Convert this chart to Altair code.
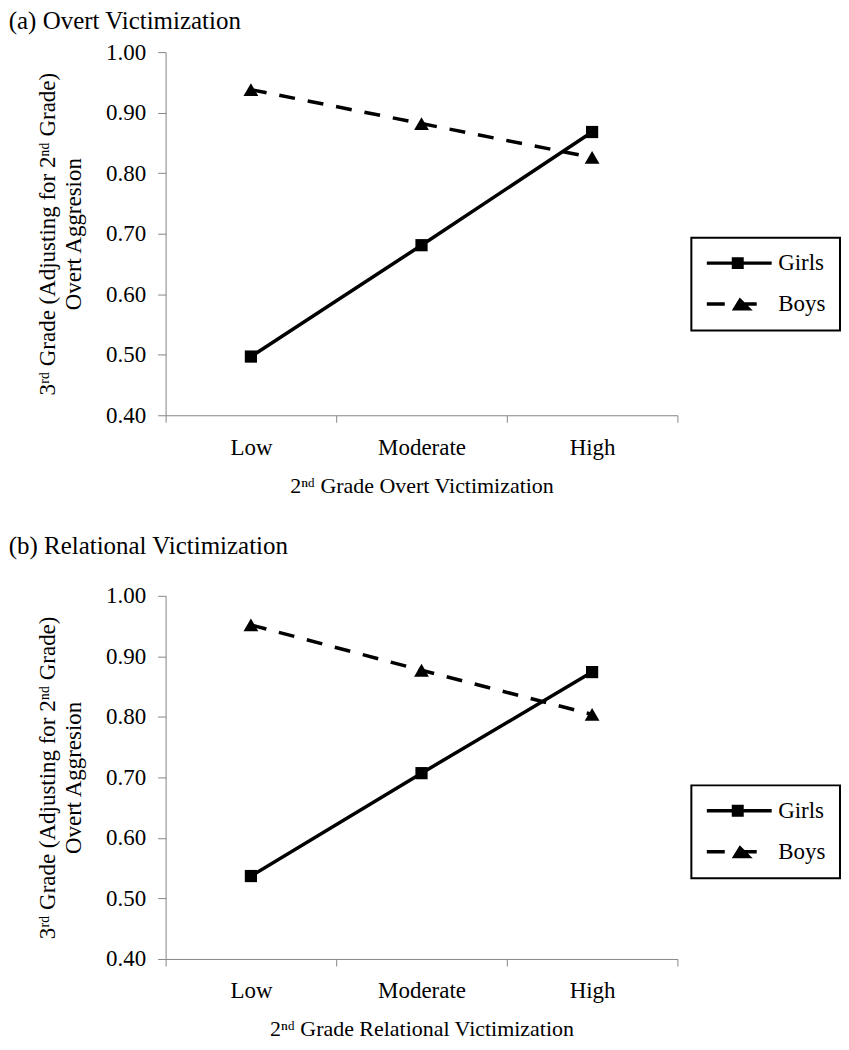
import altair as alt
import pandas as pd

categories = ["Low", "Moderate", "High"]
series = ["Girls", "Boys"]
girls_overt = [0.497, 0.681, 0.868]
boys_overt = [0.938, 0.882, 0.826]
girls_relational = [0.537, 0.707, 0.874]
boys_relational = [0.952, 0.877, 0.804]
y_ticks = [0.4, 0.5, 0.6, 0.7, 0.8, 0.9, 1.0]

FONT = "Liberation Serif"
AXIS_GRAY = "#868686"

# legend symbols: line sample + marker drawn as one filled path (unit = 10px)
GIRLS_PATH = ("M-1,-0.175L5.5,-0.175L5.5,0.175L-1,0.175Z"
              "M1.5,-0.6L2.7,-0.6L2.7,0.6L1.5,0.6Z")
BOYS_PATH = ("M-1,-0.175L0.8,-0.175L0.8,0.175L-1,0.175Z"
             "M2.7,-0.175L4,-0.175L4,0.175L2.7,0.175Z"
             "M1.5,0.65L2.3,-0.65L3.6,0.65Z")


def make_df(girls, boys):
    rows = []
    for s, vals in zip(series, [girls, boys]):
        for c, v in zip(categories, vals):
            rows.append({"level": c, "sex": s, "value": v})
    return pd.DataFrame(rows)


def panel(df, title, xtitle, title_offset, legend_y):
    base = alt.Chart(df)
    x = alt.X(
        "level:N",
        sort=categories,
        bandPosition=0.5,
        scale=alt.Scale(type="band", paddingInner=0, paddingOuter=0),
        axis=alt.Axis(title=xtitle, tickBand="extent", labelAngle=0,
                      tickSize=7, labelPadding=14, titlePadding=16),
    )
    y = alt.Y(
        "value:Q",
        scale=alt.Scale(domain=[0.4, 1.0], nice=False, zero=False),
        axis=alt.Axis(values=y_ticks, format=".2f",
                      title=["3ʳᵈ Grade (Adjusting for 2ⁿᵈ Grade)", "Overt Aggresion"],
                      tickSize=8, labelPadding=12, titlePadding=20,
                      titleLineHeight=26, titleFontSize=23),
    )
    girls = base.transform_filter(alt.datum.sex == "Girls")
    boys = base.transform_filter(alt.datum.sex == "Boys")
    girls_line = girls.mark_line(color="black", strokeWidth=3.5).encode(x=x, y=y)
    boys_line = boys.mark_line(color="black", strokeWidth=3.5,
                               strokeDash=[16, 13]).encode(x=x, y=y)
    girls_pts = girls.mark_point(
        shape="square", filled=True, size=150, color="black", opacity=1
    ).encode(x=x, y=y)
    boys_pts = boys.mark_point(
        shape="triangle-up", filled=True, size=220, color="black", opacity=1
    ).encode(x=x, y=y)
    legend_layer = base.mark_point(
        filled=True, color="black", opacity=0
    ).encode(
        x=x, y=y,
        shape=alt.Shape(
            "sex:N", sort=series,
            scale=alt.Scale(domain=series, range=[GIRLS_PATH, BOYS_PATH]),
            legend=alt.Legend(
                title=None, orient="none", legendX=527, legendY=legend_y,
                strokeColor="black", fillColor="white", padding=14,
                rowPadding=17, symbolSize=400, symbolStrokeWidth=0,
                symbolFillColor="black", symbolStrokeColor="black",
                symbolOpacity=1, labelFont=FONT, labelFontSize=23,
                labelColor="black", labelOffset=50,
            ),
        ),
    )
    return alt.layer(girls_line, boys_line, girls_pts, boys_pts, legend_layer).properties(
        width=513, height=364,
        title=alt.TitleParams(title, anchor="start", font=FONT, fontSize=25,
                              fontWeight="normal", color="black", dx=-28,
                              offset=title_offset),
    )


top = panel(make_df(girls_overt, boys_overt), "(a) Overt Victimization",
            "2ⁿᵈ Grade Overt Victimization", 7, 186)
bottom = panel(make_df(girls_relational, boys_relational), "(b) Relational Victimization",
               "2ⁿᵈ Grade Relational Victimization", 26, 190)

chart = alt.vconcat(top, bottom, spacing=38).resolve_scale(
    shape="independent"
).resolve_legend(shape="independent").properties(
    padding={"left": 0, "top": 0, "right": 0, "bottom": 0}
).configure_view(stroke=None).configure_axis(
    grid=False, domainColor=AXIS_GRAY, tickColor=AXIS_GRAY, domainWidth=1,
    tickWidth=1, labelFont=FONT, labelFontSize=23, labelColor="black",
    titleFont=FONT, titleFontSize=22, titleFontWeight="normal", titleColor="black",
).configure_legend(strokeWidth=2)

chart.save("out.html", embed_options={"renderer": "svg", "actions": False})
